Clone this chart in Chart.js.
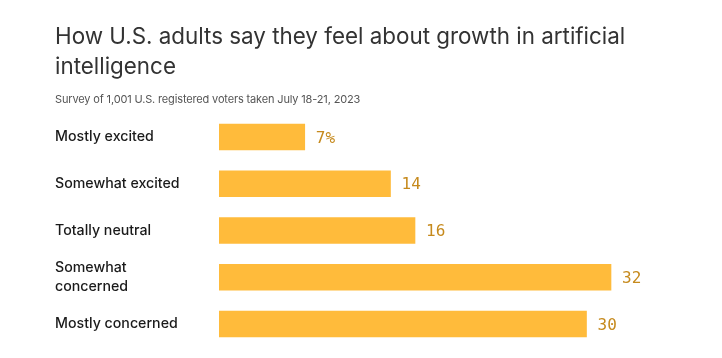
<!DOCTYPE html>
<html>
<head>
<meta charset="utf-8">
<script src="https://cdn.jsdelivr.net/npm/chart.js@4"></script>
<style>
  html, body { margin: 0; padding: 0; background: #fff; }
  #wrap { position: relative; width: 722px; height: 358px; overflow: hidden; }
  #title { position: absolute; left: 55px; top: 21px; width: 660px; font-family: Inter, "Open Sans", sans-serif; font-size: 22.4px; line-height: 30px; color: #333; font-weight: 400; letter-spacing: 0; }
  #subtitle { position: absolute; left: 55px; top: 92px; font-family: Inter, "Open Sans", sans-serif; font-size: 11px; color: #555; letter-spacing: -0.15px; }
  #chartBox { position: absolute; left: 0; top: 0; width: 722px; height: 358px; }
</style>
</head>
<body>
<div id="wrap">
  <div id="chartBox"><canvas id="c"></canvas></div>
  <div id="title">How U.S. adults say they feel about growth in artificial<br>intelligence</div>
  <div id="subtitle">Survey of 1,001 U.S. registered voters taken July 18-21, 2023</div>
</div>
<script>
const categories = [
  "Mostly excited",
  "Somewhat excited",
  "Totally neutral",
  ["Somewhat", "concerned"],
  "Mostly concerned"
];
const values = [7, 14, 16, 32, 30];
const valueLabels = ["7%", "14", "16", "32", "30"];

const valueLabelPlugin = {
  id: 'valueLabels',
  afterDatasetsDraw(chart) {
    const ctx = chart.ctx;
    const meta = chart.getDatasetMeta(0);
    ctx.save();
    ctx.font = '400 16px "DejaVu Sans Mono", "Liberation Mono", monospace';
    ctx.fillStyle = '#c68a1d';
    ctx.textAlign = 'left';
    ctx.textBaseline = 'middle';
    meta.data.forEach((bar, i) => {
      ctx.fillText(valueLabels[i], bar.x + 11, bar.y + 1.5);
    });
    ctx.restore();
  }
};

new Chart(document.getElementById('c'), {
  type: 'bar',
  data: {
    labels: categories,
    datasets: [{
      data: values,
      backgroundColor: '#ffbb3b',
      borderWidth: 0,
      barThickness: 26
    }]
  },
  options: {
    indexAxis: 'y',
    responsive: true,
    maintainAspectRatio: false,
    animation: false,
    layout: { padding: { top: 113.6, bottom: 10.6, left: 55, right: 13 } },
    plugins: { legend: { display: false }, tooltip: { enabled: false }, title: { display: false } },
    scales: {
      x: { display: false, min: 0, max: 40 },
      y: {
        grid: { display: false },
        border: { display: false },
        afterFit(scale) { scale.width = 164; },
        ticks: {
          crossAlign: 'far',
          padding: 0,
          color: '#1a1a1a',
          font: { family: 'Inter, "Open Sans", sans-serif', size: 14.2, weight: 500, lineHeight: 1.3 }
        }
      }
    }
  },
  plugins: [valueLabelPlugin]
});
</script>
</body>
</html>
